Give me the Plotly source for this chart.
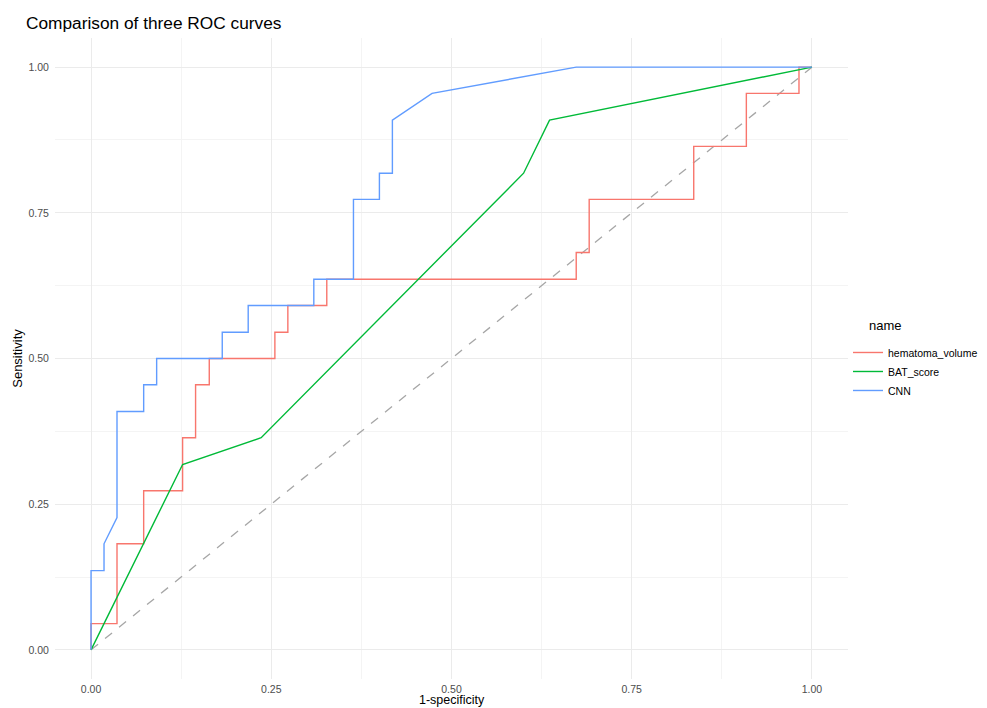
import plotly.graph_objects as go

# ROC curve data
hema_fpr = [0, 0, 0.036, 0.036, 0.073, 0.073, 0.127, 0.127, 0.145, 0.145, 0.164, 0.164,
            0.255, 0.255, 0.273, 0.273, 0.327, 0.327, 0.673, 0.673, 0.691, 0.691,
            0.836, 0.836, 0.909, 0.909, 0.982, 0.982, 1.0]
hema_tpr = [0, 0.045, 0.045, 0.182, 0.182, 0.273, 0.273, 0.364, 0.364, 0.455, 0.455, 0.5,
            0.5, 0.545, 0.545, 0.591, 0.591, 0.636, 0.636, 0.682, 0.682, 0.773,
            0.773, 0.864, 0.864, 0.955, 0.955, 1.0, 1.0]

bat_fpr = [0, 0.127, 0.236, 0.600, 0.636, 1.0]
bat_tpr = [0, 0.318, 0.364, 0.818, 0.909, 1.0]

cnn_fpr = [0, 0, 0.018, 0.018, 0.036, 0.036, 0.073, 0.073, 0.091, 0.091, 0.182, 0.182,
           0.218, 0.218, 0.309, 0.309, 0.364, 0.364, 0.400, 0.400, 0.418, 0.418,
           0.473, 0.673, 1.0]
cnn_tpr = [0, 0.136, 0.136, 0.182, 0.227, 0.409, 0.409, 0.455, 0.455, 0.5, 0.5, 0.545,
           0.545, 0.591, 0.591, 0.636, 0.636, 0.773, 0.773, 0.818, 0.818, 0.909,
           0.955, 1.0, 1.0]

ref_line = [0, 1]

series_names = ["hematoma_volume", "BAT_score", "CNN"]
series_colors = ["#F8766D", "#00BA38", "#619CFF"]
tick_vals = [0, 0.25, 0.5, 0.75, 1.0]
tick_text = ["0.00", "0.25", "0.50", "0.75", "1.00"]

FONT = "Liberation Sans, Arial, sans-serif"

fig = go.Figure()
fig.add_trace(go.Scatter(x=ref_line, y=ref_line, mode="lines", showlegend=False,
                         line=dict(color="#A6A6A6", width=1.3, dash="dash"),
                         hoverinfo="skip"))
for name, xs, ys, col in zip(series_names,
                             [hema_fpr, bat_fpr, cnn_fpr],
                             [hema_tpr, bat_tpr, cnn_tpr],
                             series_colors):
    fig.add_trace(go.Scatter(x=xs, y=ys, mode="lines", name=name,
                             line=dict(color=col, width=1.4)))

axis_common = dict(
    tickvals=tick_vals, ticktext=tick_text,
    showgrid=True, gridcolor="#EBEBEB", gridwidth=1.1,
    zeroline=False, showline=False,
    ticks="outside", tickcolor="rgba(0,0,0,0)",
    tickfont=dict(family=FONT, size=10.5, color="#4D4D4D"),
    minor=dict(tickvals=[0.125, 0.375, 0.625, 0.875], showgrid=True,
               gridcolor="#F4F4F4", gridwidth=0.6, ticks=""),
)

fig.update_layout(
    width=979, height=700,
    paper_bgcolor="white", plot_bgcolor="white",
    margin=dict(l=47, r=139, t=30, b=29, autoexpand=False),
    title=dict(text="Comparison of three ROC curves", x=18 / 979, xref="container",
               xanchor="left", y=1 - 15 / 700, yref="container", yanchor="middle",
               font=dict(family=FONT, size=17.3, color="black")),
    xaxis=dict(range=[-0.05, 1.05], ticklen=0, **axis_common),
    yaxis=dict(range=[-0.05, 1.05], ticklen=3,
               title=dict(text="Sensitivity", standoff=2,
                          font=dict(family=FONT, size=13, color="black")),
               **axis_common),
    legend=dict(font=dict(family=FONT, size=10.5, color="black"),
                x=1.0, xanchor="left", y=0.532, yanchor="top",
                bgcolor="rgba(0,0,0,0)", itemwidth=30, tracegroupgap=0),
    annotations=[
        dict(text="name", xref="paper", yref="paper",
             x=(859 - 47) / 793, y=(671 - 317) / 641,
             xanchor="left", yanchor="middle", showarrow=False,
             font=dict(family=FONT, size=13, color="black")),
        dict(text="1-specificity", xref="paper", yref="paper",
             x=0.5, y=-29 / 641, xanchor="center", yanchor="bottom",
             showarrow=False, borderpad=0,
             font=dict(family=FONT, size=12.5, color="black")),
    ],
    showlegend=True,
)

fig.write_html("out.html")
